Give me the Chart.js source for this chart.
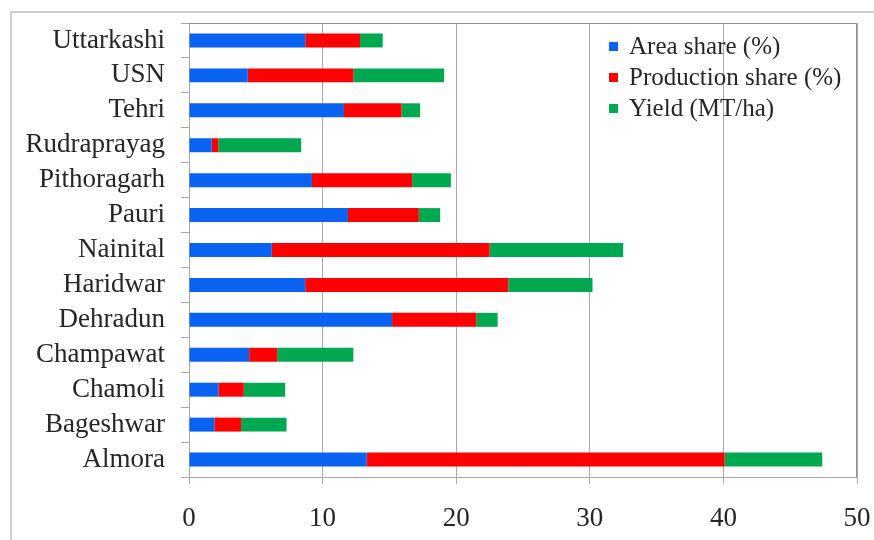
<!DOCTYPE html>
<html>
<head>
<meta charset="utf-8">
<title>District shares and yield</title>
<script src="https://cdn.jsdelivr.net/npm/chart.js@4/dist/chart.umd.min.js"></script>
<style>
  html, body { margin: 0; padding: 0; background: #ffffff; }
  #wrap { position: relative; width: 874px; height: 540px; overflow: hidden; }
  canvas { display: block; }
</style>
</head>
<body>
<div id="wrap"><canvas id="chart" width="874" height="540"></canvas></div>
<script>
// Districts, listed top to bottom
const districts = ['Uttarkashi', 'USN', 'Tehri', 'Rudraprayag', 'Pithoragarh', 'Pauri',
  'Nainital', 'Haridwar', 'Dehradun', 'Champawat', 'Chamoli', 'Bageshwar', 'Almora'];

const areaShare = [8.7, 4.4, 11.6, 1.7, 9.2, 11.9, 6.2, 8.7, 15.2, 4.5, 2.2, 1.9, 13.3];
const productionShare = [4.1, 7.9, 4.3, 0.5, 7.5, 5.3, 16.3, 15.2, 6.3, 2.1, 1.9, 2.0, 26.8];
const yieldMtHa = [1.7, 6.8, 1.4, 6.2, 2.9, 1.6, 10.0, 6.3, 1.6, 5.7, 3.1, 3.4, 7.3];

const seriesNames = ['Area share (%)', 'Production share (%)', 'Yield (MT/ha)'];
const xTicks = [0, 10, 20, 30, 40, 50];

const COLORS = ['#0a62f2', '#ff0000', '#00a84f'];
const SERIF = "'Liberation Serif', 'Times New Roman', serif";
const TEXT = '#262626';
const GRID = '#a8a8a8';

// Outer frame and plot-area border
const framePlugin = {
  id: 'frame',
  beforeDraw(chart) {
    const ctx = chart.ctx;
    ctx.save();
    ctx.strokeStyle = '#cfcfcf';
    ctx.lineWidth = 2;
    ctx.beginPath();
    ctx.moveTo(11, 540);
    ctx.lineTo(11, 12);
    ctx.lineTo(874, 12);
    ctx.stroke();
    ctx.restore();
  },
  beforeDatasetsDraw(chart) {
    const { ctx, chartArea: a } = chart;
    ctx.save();
    ctx.strokeStyle = '#8f8f8f';
    ctx.lineWidth = 1;
    ctx.beginPath();
    ctx.moveTo(a.left, a.top + 0.5);
    ctx.lineTo(a.right - 0.5, a.top + 0.5);
    ctx.lineTo(a.right - 0.5, a.bottom);
    ctx.stroke();
    ctx.restore();
  }
};

// Legend drawn inside the plot, top right
const insideLegend = {
  id: 'insideLegend',
  afterDatasetsDraw(chart) {
    const { ctx, chartArea: a } = chart;
    const x0 = a.right - 248;
    const y0 = a.top + 23;
    const step = 31;
    ctx.save();
    ctx.font = '25px ' + SERIF;
    ctx.textBaseline = 'middle';
    ctx.textAlign = 'left';
    chart.data.datasets.forEach((ds, i) => {
      const y = y0 + i * step;
      ctx.fillStyle = ds.backgroundColor;
      ctx.fillRect(x0, y - 4, 9, 9);
      ctx.fillStyle = TEXT;
      ctx.fillText(ds.label, x0 + 20, y + 1);
    });
    ctx.restore();
  }
};

new Chart(document.getElementById('chart'), {
  type: 'bar',
  data: {
    labels: districts,
    datasets: [
      { label: seriesNames[0], data: areaShare, backgroundColor: COLORS[0] },
      { label: seriesNames[1], data: productionShare, backgroundColor: COLORS[1] },
      { label: seriesNames[2], data: yieldMtHa, backgroundColor: COLORS[2] }
    ]
  },
  options: {
    indexAxis: 'y',
    responsive: false,
    animation: false,
    devicePixelRatio: 1,
    layout: { padding: { left: 0, top: 23, right: 17, bottom: 0 } },
    datasets: { bar: { categoryPercentage: 1.0, barPercentage: 0.4, borderWidth: 0 } },
    plugins: {
      legend: { display: false },
      tooltip: { enabled: false }
    },
    scales: {
      x: {
        stacked: true,
        min: 0,
        max: 50,
        afterBuildTicks(scale) { scale.ticks = xTicks.map(v => ({ value: v })); },
        afterFit(scale) { scale.height = 63; scale.paddingLeft = 0; scale.paddingRight = 0; },
        grid: { color: GRID, lineWidth: 1, tickLength: 7, drawTicks: true },
        border: { display: true, color: GRID },
        ticks: { color: TEXT, font: { family: SERIF, size: 27 }, padding: 19 }
      },
      y: {
        stacked: true,
        afterFit(scale) { scale.width = 189; scale.paddingTop = 0; scale.paddingBottom = 0; },
        grid: { drawOnChartArea: false, drawTicks: true, tickLength: 8, color: GRID },
        border: { display: true, color: GRID },
        ticks: { color: TEXT, font: { family: SERIF, size: 27 }, padding: 16, autoSkip: false }
      }
    }
  },
  plugins: [framePlugin, insideLegend]
});
</script>
</body>
</html>
